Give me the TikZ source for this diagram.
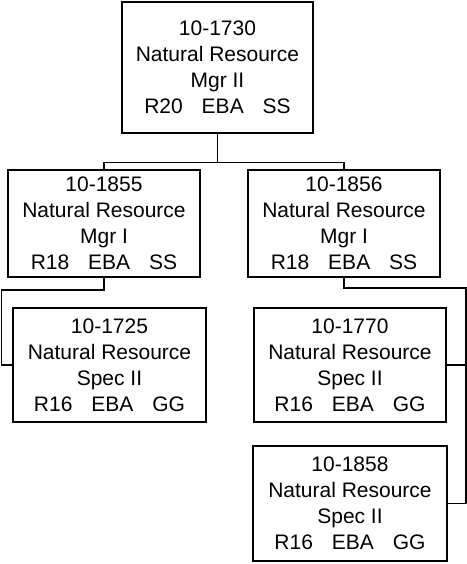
\documentclass[tikz,border=0pt]{standalone}
\usepackage{fontspec}
\setmainfont{Liberation Sans}
\usetikzlibrary{calc}
\begin{document}
\begin{tikzpicture}[x=1pt,y=-1pt,
  posbox/.style={draw=black,line width=1.5pt,fill=white,inner sep=0pt,align=center,
    font=\fontsize{21}{26}\selectfont},
  conn/.style={draw=black,line width=1.5pt}]
\useasboundingbox (0,0) rectangle (466,564);
\newcommand{\gp}{\hspace{0.9em}}
\node[posbox,minimum width=191pt,minimum height=131pt] (top) at (217.5,67.5)
  {10-1730\\Natural Resource\\Mgr II\\R20\gp EBA\gp SS};
\node[posbox,minimum width=192pt,minimum height=107pt] (l1) at (104,223.5)
  {10-1855\\Natural Resource\\Mgr I\\R18\gp EBA\gp SS};
\node[posbox,minimum width=192pt,minimum height=107pt] (r1) at (344,223.5)
  {10-1856\\Natural Resource\\Mgr I\\R18\gp EBA\gp SS};
\node[posbox,minimum width=193pt,minimum height=114pt] (c1) at (109.5,365)
  {10-1725\\Natural Resource\\Spec II\\R16\gp EBA\gp GG};
\node[posbox,minimum width=192pt,minimum height=114pt] (c2) at (350,365)
  {10-1770\\Natural Resource\\Spec II\\R16\gp EBA\gp GG};
\node[posbox,minimum width=194pt,minimum height=115pt] (c3) at (350,503.5)
  {10-1858\\Natural Resource\\Spec II\\R16\gp EBA\gp GG};
\coordinate (lrail) at ($(c1.west)+(-11,0)$);
\coordinate (rrail) at ($(c3.east)+(18,0)$);
\draw[conn] (top.south) -- ++(0,29) coordinate (tj);
\draw[conn] (l1.north) |- (tj) -| (r1.north);
\draw[conn] (l1.south) -- ++(0,12) -| (lrail) -- (c1.west);
\draw[conn] (r1.south) -- ++(0,10) -| (rrail) -- (c3.east);
\draw[conn] (c2.east) -- (c2.east -| rrail);
\end{tikzpicture}
\end{document}
